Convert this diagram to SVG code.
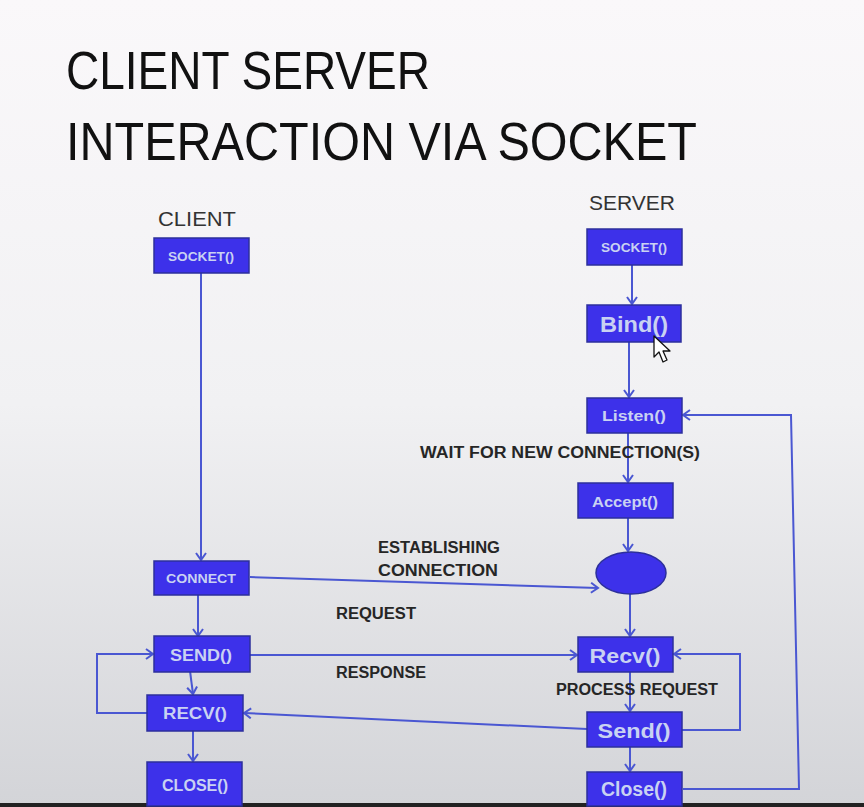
<svg xmlns="http://www.w3.org/2000/svg" width="864" height="807" viewBox="0 0 864 807">
<defs>
<linearGradient id="bg" x1="0" y1="0" x2="0" y2="1">
<stop offset="0" stop-color="#faf8fa"/>
<stop offset="0.5" stop-color="#f1f1f3"/>
<stop offset="1" stop-color="#d3d4d8"/>
</linearGradient>
<marker id="ah" markerWidth="12" markerHeight="12" refX="9" refY="6" orient="auto" markerUnits="userSpaceOnUse">
<path d="M2,1 L9,6 L2,11" fill="none" stroke="#4a57d2" stroke-width="2"/>
</marker>
<style>
.box{fill:#3d31ea;stroke:#2c2f9c;stroke-width:1.5}
.bt{font-family:"Liberation Sans",Arial,sans-serif;font-weight:bold;fill:#c9d2f2;text-anchor:middle;dominant-baseline:central}
.c{fill:none;stroke:#4a57d2;stroke-width:2}
.lbl{font-family:"Liberation Sans",Arial,sans-serif;font-weight:bold;fill:#262626}
.title{font-family:"Liberation Sans",Arial,sans-serif;fill:#111}
.hdr{font-family:"Liberation Sans",Arial,sans-serif;fill:#333}
</style>
</defs>
<rect x="0" y="0" width="864" height="807" fill="url(#bg)"/>
<rect x="0" y="803" width="864" height="4" fill="#222"/>
<text class="title" x="66" y="89" font-size="53" textLength="364" lengthAdjust="spacingAndGlyphs">CLIENT SERVER</text>
<text class="title" x="66" y="160" font-size="53" textLength="631" lengthAdjust="spacingAndGlyphs">INTERACTION VIA SOCKET</text>
<text class="hdr" x="158" y="226" font-size="21" textLength="78" lengthAdjust="spacingAndGlyphs">CLIENT</text>
<text class="hdr" x="589" y="210" font-size="21" textLength="86" lengthAdjust="spacingAndGlyphs">SERVER</text>
<g id="connectors">
<line class="c" x1="201" y1="273" x2="201" y2="560" marker-end="url(#ah)"/>
<line class="c" x1="198" y1="595" x2="198" y2="636" marker-end="url(#ah)"/>
<line class="c" x1="190" y1="671" x2="193" y2="694" marker-end="url(#ah)"/>
<line class="c" x1="193" y1="731" x2="193" y2="761" marker-end="url(#ah)"/>
<polyline class="c" points="147,713 97,713 97,654 153,654" marker-end="url(#ah)"/>
<line class="c" x1="250" y1="577" x2="598" y2="588" marker-end="url(#ah)"/>
<line class="c" x1="250" y1="655" x2="577" y2="655" marker-end="url(#ah)"/>
<line class="c" x1="587" y1="729" x2="244" y2="713" marker-end="url(#ah)"/>
<line class="c" x1="632" y1="265" x2="632" y2="304" marker-end="url(#ah)"/>
<line class="c" x1="629" y1="342" x2="629" y2="397" marker-end="url(#ah)"/>
<line class="c" x1="628" y1="433" x2="628" y2="482" marker-end="url(#ah)"/>
<line class="c" x1="628" y1="518" x2="628" y2="551" marker-end="url(#ah)"/>
<line class="c" x1="630" y1="594" x2="630" y2="636" marker-end="url(#ah)"/>
<line class="c" x1="630" y1="672" x2="630" y2="711" marker-end="url(#ah)"/>
<line class="c" x1="630" y1="747" x2="630" y2="771" marker-end="url(#ah)"/>
<polyline class="c" points="682,730 740,730 740,654 674,654" marker-end="url(#ah)"/>
<polyline class="c" points="683,789 799,789 791,415 683,415" marker-end="url(#ah)"/>
</g>
<g id="c-socket"><rect class="box" x="154" y="238" width="95" height="35"/><text class="bt" x="201" y="256" font-size="13" textLength="66" lengthAdjust="spacingAndGlyphs">SOCKET()</text></g>
<g id="c-connect"><rect class="box" x="154" y="561" width="95" height="34"/><text class="bt" x="201" y="578" font-size="13" textLength="70" lengthAdjust="spacingAndGlyphs">CONNECT</text></g>
<g id="c-send"><rect class="box" x="154" y="636" width="96" height="36"/><text class="bt" x="201" y="655" font-size="16" textLength="62" lengthAdjust="spacingAndGlyphs">SEND()</text></g>
<g id="c-recv"><rect class="box" x="147" y="695" width="96" height="36"/><text class="bt" x="195" y="713" font-size="16" textLength="64" lengthAdjust="spacingAndGlyphs">RECV()</text></g>
<g id="c-close"><rect class="box" x="147" y="762" width="95" height="44"/><text class="bt" x="195" y="785" font-size="16" textLength="66" lengthAdjust="spacingAndGlyphs">CLOSE()</text></g>
<g id="s-socket"><rect class="box" x="587" y="229" width="95" height="36"/><text class="bt" x="634" y="247" font-size="13" textLength="66" lengthAdjust="spacingAndGlyphs">SOCKET()</text></g>
<g id="s-bind"><rect class="box" x="587" y="305" width="94" height="37"/><text class="bt" x="634" y="324" font-size="22" textLength="68" lengthAdjust="spacingAndGlyphs">Bind()</text></g>
<g id="s-listen"><rect class="box" x="587" y="398" width="95" height="35"/><text class="bt" x="634" y="415" font-size="15" textLength="64" lengthAdjust="spacingAndGlyphs">Listen()</text></g>
<g id="s-accept"><rect class="box" x="578" y="483" width="95" height="35"/><text class="bt" x="625" y="501" font-size="15" textLength="66" lengthAdjust="spacingAndGlyphs">Accept()</text></g>
<g id="s-conn"><ellipse cx="631" cy="573" rx="35" ry="21" fill="#3d31ea" stroke="#2c2f9c" stroke-width="1.5"/></g>
<g id="s-recv"><rect class="box" x="578" y="637" width="95" height="35"/><text class="bt" x="625" y="655" font-size="21" textLength="71" lengthAdjust="spacingAndGlyphs">Recv()</text></g>
<g id="s-send"><rect class="box" x="587" y="712" width="95" height="35"/><text class="bt" x="634" y="730" font-size="21" textLength="73" lengthAdjust="spacingAndGlyphs">Send()</text></g>
<g id="s-close"><rect class="box" x="587" y="772" width="95" height="34"/><text class="bt" x="634" y="789" font-size="20" textLength="66" lengthAdjust="spacingAndGlyphs">Close()</text></g>
<text class="lbl" x="420" y="458" font-size="16" textLength="280" lengthAdjust="spacingAndGlyphs">WAIT FOR NEW CONNECTION(S)</text>
<text class="lbl" x="378" y="553" font-size="16" textLength="122" lengthAdjust="spacingAndGlyphs">ESTABLISHING</text>
<text class="lbl" x="378" y="576" font-size="16" textLength="120" lengthAdjust="spacingAndGlyphs">CONNECTION</text>
<text class="lbl" x="336" y="619" font-size="16" textLength="80" lengthAdjust="spacingAndGlyphs">REQUEST</text>
<text class="lbl" x="336" y="678" font-size="16" textLength="90" lengthAdjust="spacingAndGlyphs">RESPONSE</text>
<text class="lbl" x="556" y="695" font-size="16" textLength="162" lengthAdjust="spacingAndGlyphs">PROCESS REQUEST</text>
<polygon points="654,336 654,357 659,352 663,362 667,360 663,351 670,351" fill="#fff" stroke="#111" stroke-width="1.3" stroke-linejoin="round"/>
</svg>
